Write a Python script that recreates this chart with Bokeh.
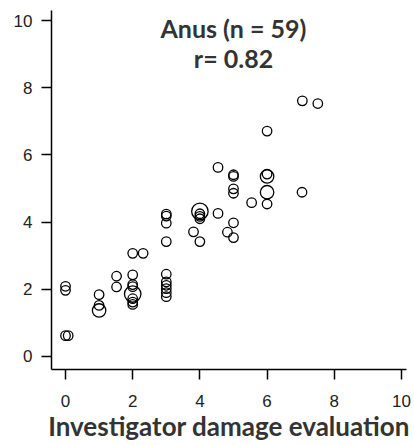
from bokeh.plotting import figure
from bokeh.models import FixedTicker, Label, ColumnDataSource
from bokeh.embed import file_html
from bokeh.resources import INLINE
import numpy as np

# Data
x_vals = [0, 0, 0, 0.08,
          1, 1, 1,
          1.52, 1.52,
          2, 2.31, 2, 2, 2, 2, 2, 2, 2,
          3, 3, 3, 3, 3, 3, 3, 3, 3, 3,
          4, 4, 4, 4, 4, 3.81,
          4.54, 4.54, 4.82,
          5, 5, 5, 5, 5, 5,
          5.54,
          6, 6, 6, 6, 6,
          7.05, 7.04, 7.51]
y_vals = [2.09, 1.97, 0.62, 0.62,
          1.84, 1.52, 1.37,
          2.39, 2.07,
          3.07, 3.07, 2.43, 2.14, 2.08, 1.86, 1.72, 1.62, 1.55,
          4.24, 4.18, 3.97, 3.42, 2.45, 2.22, 2.12, 2.02, 1.90, 1.78,
          4.32, 4.25, 4.17, 4.10, 3.42, 3.71,
          4.26, 5.63, 3.70,
          5.41, 5.36, 4.99, 4.86, 3.98, 3.54,
          4.58,
          6.71, 5.43, 5.36, 4.89, 4.54,
          7.61, 4.89, 7.53]
counts = [1, 1, 1, 1,
          1, 1, 2,
          1, 1,
          1, 1, 1, 1, 1, 3, 1, 1, 1,
          1, 1, 1, 1, 1, 1, 1, 1, 1, 1,
          3, 1, 1, 1, 1, 1,
          1, 1, 1,
          1, 1, 1, 1, 1, 1,
          1,
          1, 1, 2, 2, 1,
          1, 1, 1]
x_ticks = [0, 2, 4, 6, 8, 10]
y_ticks = [0, 2, 4, 6, 8, 10]
title_lines = ["Anus (n = 59)", "r= 0.82"]
x_title = "Investigator damage evaluation"

src = ColumnDataSource(dict(x=x_vals, y=y_vals,
                            s=list(9.5 * np.sqrt(np.array(counts, dtype=float)))))

p = figure(width=414, height=445, output_backend="svg", toolbar_location=None,
           x_range=(-0.417, 10.15), y_range=(-0.387, 10.30),
           min_border_left=51, min_border_right=8, min_border_top=10,
           min_border_bottom=76)
p.outline_line_color = None
p.xgrid.visible = False
p.ygrid.visible = False
p.background_fill_color = "white"
p.border_fill_color = "white"

p.scatter("x", "y", source=src, size="s", marker="circle", fill_color=None,
          line_color="black", line_width=1.3)

for ax in (p.xaxis[0], p.yaxis[0]):
    ax.axis_line_color = "black"
    ax.axis_line_width = 1.5
    ax.major_tick_line_color = "black"
    ax.major_tick_line_width = 1.5
    ax.major_tick_out = 10
    ax.major_tick_in = 0
    ax.minor_tick_line_color = None
    ax.major_label_text_font = "Liberation Sans"
    ax.major_label_text_font_size = "17px"
    ax.major_label_text_color = "#222222"

p.xaxis.ticker = FixedTicker(ticks=x_ticks)
p.yaxis.ticker = FixedTicker(ticks=y_ticks)
p.yaxis.major_label_standoff = 9
p.xaxis.major_label_standoff = 15
p.xaxis.axis_label = x_title
p.xaxis.axis_label_text_font = "Lato"
p.xaxis.axis_label_text_font_style = "bold"
p.xaxis.axis_label_text_font_size = "26px"
p.xaxis.axis_label_text_color = "#333333"
p.xaxis.axis_label_standoff = 0

for i, t in enumerate(title_lines):
    p.add_layout(Label(x=5, y=9.77 - i * 0.87, text=t, text_align="center",
                       text_baseline="alphabetic", text_font="Lato",
                       text_font_style="bold", text_font_size="25px",
                       text_color="#333333"))

open("out.html", "w").write(file_html(p, INLINE))
